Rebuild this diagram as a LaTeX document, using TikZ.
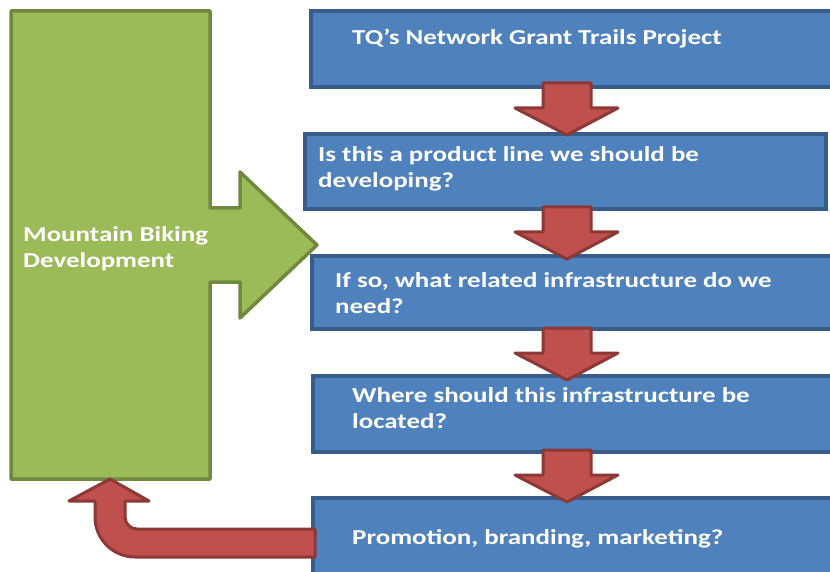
\documentclass[tikz,border=0pt]{standalone}
\usepackage{fontspec}
\setmainfont{Carlito}[FakeStretch=1.265]
\definecolor{gfill}{HTML}{9BBB59}
\definecolor{gline}{HTML}{71893F}
\definecolor{bfill}{HTML}{4F81BD}
\definecolor{bline}{HTML}{385D8A}
\definecolor{rfill}{HTML}{C0504D}
\definecolor{rline}{HTML}{8C3836}
\tikzset{
  greenshape/.style={fill=gfill,draw=gline,line width=3.5pt,line join=round},
  bluebox/.style={fill=bfill,draw=bline,line width=3.5pt},
  redshape/.style={fill=rfill,draw=rline,line width=3pt,line join=round},
  lbl/.style={text=white,font=\fontsize{21.3}{26}\selectfont\bfseries,inner sep=0pt,anchor=base west,align=left},
  downarr/.pic={\path[redshape] (-24,0) -- (24,0) -- (24,25) -- (51,25) -- (0,52) -- (-52,25) -- (-24,25) -- cycle;}
}
\begin{document}
\begin{tikzpicture}[x=1pt,y=-1pt]
\clip (0,0) rectangle (830,572);
\fill[white] (0,0) rectangle (830,572);
% green block arrow
\path[greenshape] (11,11) -- (210,11) -- (210,208) -- (240,208) -- (240,172) -- (317,245)
  -- (240,318) -- (240,282) -- (210,282) -- (210,479) -- (11,479) -- cycle;
\node[lbl] (mbd) at (23,267) {Mountain Biking\\Development};
% blue boxes
\path[bluebox] (311,11) rectangle (845,87);
\path[bluebox] (305,134) rectangle (826,209);
\path[bluebox] (312,256) rectangle (845,329);
\path[bluebox] (313,376) rectangle (845,452);
\path[bluebox] (313,498) rectangle (845,590);
\node[lbl] (t1) at (352,45) {TQ’s Network Grant Trails Project};
\node[lbl] (t2) at (318,188) {Is this a product line we should be\\developing?};
\node[lbl] (t3) at (335,313) {If so, what related infrastructure do we\\need?};
\node[lbl] (t4) at (352,428) {Where should this infrastructure be\\located?};
\node[lbl] (t5) at (352,544) {Promotion, branding, marketing?};
% red down arrows
\foreach \y in {83,207,328,450} \pic at (567,\y) {downarr};
% red U-turn arrow
\path[redshape] (315,529) -- (137,529) .. controls (130.4,529) and (125,523.6) .. (125,517)
  -- (125,501) -- (149,501) -- (110,479) -- (69,501) -- (95,501) -- (95,517)
  .. controls (95,539.1) and (112.9,557) .. (135,557) -- (315,557) -- cycle;
\end{tikzpicture}
\end{document}
